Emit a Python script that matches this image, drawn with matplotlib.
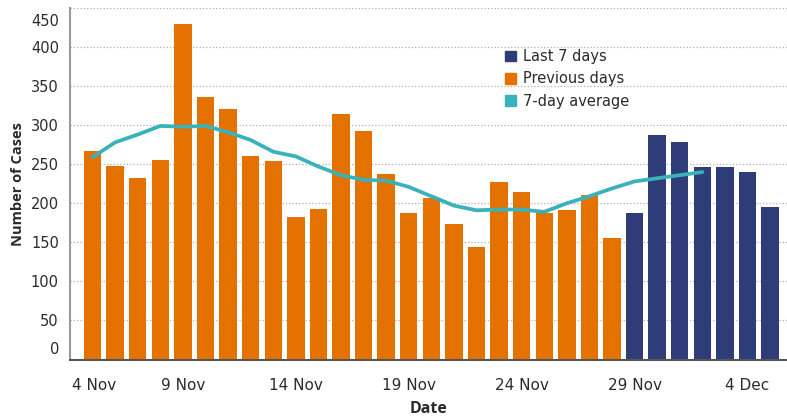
import pandas as pd
import matplotlib
matplotlib.use("Agg")
import matplotlib.pyplot as plt
import matplotlib.dates as mdates
from matplotlib.patches import Patch
from matplotlib.transforms import ScaledTranslation

plt.rcParams["font.family"] = ["DejaVu Sans"]

# daily cases, 5 Nov - 5 Dec
dates = pd.date_range("2020-11-05", "2020-12-05", freq="D")
cases = [267, 248, 232, 255, 430, 336, 321, 260, 254, 183, 193, 314, 292, 237,
         187, 207, 174, 144, 227, 215, 187, 191, 211, 156,
         187, 287, 278, 247, 247, 240, 195]
# centred 7-day average, 5 Nov - 2 Dec
avg_7day = [259, 278, 288, 299, 298, 299, 291, 281, 266, 260, 247, 236, 230, 229,
            221, 209, 197, 191, 192, 192, 189, 200, 209, 219, 228, 232, 236, 240]
n_last = 7
tick_dates = pd.date_range("2020-11-04", periods=7, freq="5D")
tick_labels = ["4 Nov", "9 Nov", "14 Nov", "19 Nov", "24 Nov", "29 Nov", "4 Dec"]
y_ticks = [0, 50, 100, 150, 200, 250, 300, 350, 400, 450]

orange = "#E57200"
navy = "#2E3D78"
teal = "#3AB2B9"
text_col = "#2b2b2b"

fig = plt.figure(figsize=(7.87, 4.18), dpi=100)
ax = fig.add_axes([70 / 787, 1 - 359.5 / 418, 717 / 787, 351.5 / 418])

colors = [orange] * (len(cases) - n_last) + [navy] * n_last
ax.bar(dates, cases, width=0.77, color=colors, zorder=2)
ax.plot(dates[:len(avg_7day)], avg_7day, color=teal, lw=2.7, zorder=3,
        solid_capstyle="round")

ax.set_xlim(mdates.date2num(pd.Timestamp("2020-11-04")),
            mdates.date2num(pd.Timestamp("2020-12-05")) + 0.75)
ax.set_ylim(0, 450)

ax.set_yticks(y_ticks)
ax.set_yticklabels([str(v) for v in y_ticks])
ax.set_xticks(tick_dates)
ax.set_xticklabels(tick_labels)
ax.tick_params(axis="both", length=0, colors=text_col)
ax.tick_params(axis="y", pad=8, labelsize=10.5)
ax.tick_params(axis="x", pad=13, labelsize=11)

# Tableau-style: edge labels nudged inside the axis
ylabels = ax.get_yticklabels()
ylabels[0].set_transform(ylabels[0].get_transform() +
                         ScaledTranslation(0, 11.5 / 100, fig.dpi_scale_trans))
ylabels[-1].set_transform(ylabels[-1].get_transform() +
                          ScaledTranslation(0, -11.7 / 100, fig.dpi_scale_trans))
xlabels = ax.get_xticklabels()
xlabels[0].set_horizontalalignment("left")
xlabels[0].set_transform(xlabels[0].get_transform() +
                         ScaledTranslation(2 / 100, 0, fig.dpi_scale_trans))

ax.grid(axis="y", linestyle=":", color="#b0b0b0", lw=0.9, zorder=0)
ax.set_axisbelow(True)
for side in ["top", "right"]:
    ax.spines[side].set_visible(False)
ax.spines["left"].set_color("#999999")
ax.spines["left"].set_linewidth(1.5)
ax.spines["bottom"].set_color("#555555")
ax.spines["bottom"].set_linewidth(1.5)

ax.set_ylabel("Number of Cases", fontsize=10.5, fontweight="bold",
              color=text_col, family=["Open Sans", "DejaVu Sans"])
ax.yaxis.set_label_coords(-0.063, 0.5)
ax.set_xlabel("Date", fontsize=11.5, fontweight="bold", color=text_col,
              family=["Open Sans", "DejaVu Sans"])
ax.xaxis.set_label_coords(0.5, -0.118)

handles = [Patch(color=navy, label="Last 7 days"),
           Patch(color=orange, label="Previous days"),
           Patch(color=teal, label="7-day average")]
leg = ax.legend(handles=handles, loc="upper left",
                bbox_to_anchor=(505 / 787, 1 - 49 / 418),
                bbox_transform=fig.transFigure, frameon=False,
                fontsize=10.5, handlelength=0.75, handleheight=0.75,
                handletextpad=0.5, labelspacing=0.5, borderpad=0,
                borderaxespad=0)
for t in leg.get_texts():
    t.set_color(text_col)

fig.savefig("out.png", dpi=100)
